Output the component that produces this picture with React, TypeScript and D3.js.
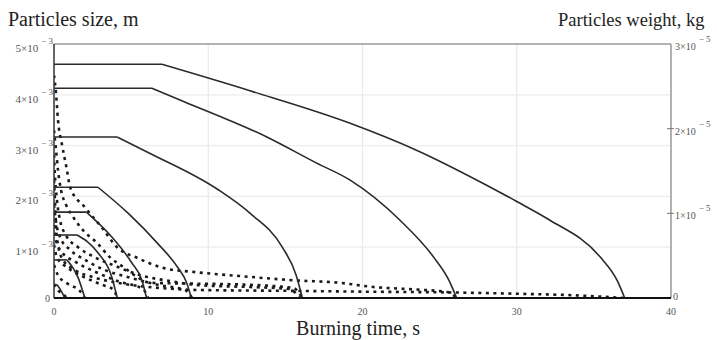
import React from "react";
import * as d3 from "d3";

// particle size curves, [time s, size 1e-3 m]; first two points = plateau
const size1 = [[0, 4.6], [7.0, 4.6], [12.7, 4.08], [19.2, 3.44], [23.5, 2.91], [27.8, 2.26], [30.0, 1.9], [32.1, 1.54], [35.4, 0.81], [36.5, 0.35], [37.0, 0]];
const size2 = [[0, 4.13], [6.35, 4.13], [8.4, 3.87], [13.8, 3.17], [17.0, 2.66], [19.2, 2.32], [22.4, 1.54], [24.6, 0.81], [25.6, 0.35], [26.1, 0]];
const size3 = [[0, 3.17], [4.1, 3.17], [6.2, 2.85], [10.6, 2.14], [12.7, 1.67], [14.8, 1.0], [15.7, 0.45], [16.1, 0]];
const size4 = [[0, 2.18], [2.85, 2.18], [4.8, 1.67], [6.7, 1.08], [8.0, 0.61], [8.6, 0.3], [8.9, 0]];
const size5 = [[0, 1.69], [2.1, 1.69], [3.75, 1.2], [5.05, 0.69], [5.7, 0.35], [6.0, 0]];
const size6 = [[0, 1.24], [1.5, 1.24], [2.85, 0.89], [3.75, 0.41], [4.1, 0]];
const size7 = [[0, 0.75], [0.85, 0.75], [1.55, 0.41], [2.0, 0]];
const size8 = [[0, 0.26], [0.2, 0.26], [0.5, 0.12], [0.7, 0]];

// particle weight curves, [time s, weight 1e-5 kg]
const weight0 = [[0, 1.39], [0.06, 1.16], [0.13, 0.86], [0.26, 0.63], [0.58, 0.45], [1.36, 0.33], [2.66, 0.24], [4.6, 0.165], [6.87, 0.118], [9.5, 0.094], [15, 0.085], [20, 0.075], [26, 0.065], [30, 0.05], [34, 0.03], [37, 0]];
const weight1 = [[0, 2.63], [0.13, 2.42], [0.26, 2.1], [0.52, 1.81], [0.84, 1.51], [1.04, 1.31], [2.01, 1.07], [3.11, 0.83], [4.08, 0.6], [5.44, 0.47], [7.19, 0.35], [8.94, 0.31], [12, 0.26], [15.5, 0.21], [18.5, 0.18], [20.7, 0.13], [22.9, 0.106], [25.5, 0.07], [26.1, 0]];
const weight2 = [[0, 1.98], [0.13, 1.75], [0.26, 1.51], [0.45, 1.28], [0.78, 1.1], [1.23, 0.96], [1.88, 0.8], [2.79, 0.65], [3.63, 0.48], [4.47, 0.37], [5.38, 0.25], [6.22, 0.18], [9, 0.17], [12, 0.16], [15.5, 0.12], [16.1, 0]];
const weight3 = [[0, 1.69], [0.06, 1.45], [0.19, 1.16], [0.39, 0.92], [0.78, 0.74], [1.56, 0.6], [2.66, 0.48], [3.95, 0.38], [5.57, 0.27], [7.52, 0.2], [9.46, 0.15], [12.7, 0.13], [15.3, 0.106], [15.9, 0]];
const weight4 = [[0, 1.1], [0.13, 0.9], [0.39, 0.72], [1.04, 0.57], [2.01, 0.45], [3.3, 0.33], [4.93, 0.24], [6.87, 0.15], [8.5, 0.094], [8.95, 0]];
const weight5 = [[0, 0.86], [0.13, 0.68], [0.52, 0.54], [1.36, 0.43], [2.66, 0.31], [4.28, 0.19], [5.77, 0.106], [6.1, 0]];
const weight6 = [[0, 0.63], [0.19, 0.48], [0.78, 0.37], [1.81, 0.26], [2.98, 0.165], [3.89, 0.094], [4.08, 0]];
const weight7 = [[0, 0.39], [0.26, 0.27], [0.91, 0.165], [1.68, 0.083], [2.0, 0]];
const weight8 = [[0, 0.165], [0.26, 0.094], [0.65, 0.035], [0.84, 0]];

const sizeSeries = [size1, size2, size3, size4, size5, size6, size7, size8];
const weightSeries = [weight0, weight1, weight2, weight3, weight4, weight5, weight6, weight7, weight8];

const xTicks = [0, 10, 20, 30, 40];
const leftTicks = [1, 2, 3, 4, 5]; // x 1e-3
const rightTicks = [1, 2, 3]; // x 1e-5

const W = 717, H = 340;
const serif = "'Liberation Serif', 'DejaVu Serif', serif";

export default function App() {
  const x = d3.scaleLinear().domain([0, 40]).range([54, 671]);
  const yL = d3.scaleLinear().domain([0, 5]).range([298, 44]);
  const yR = d3.scaleLinear().domain([0, 3]).range([298, 44]);

  const flatL = d3.line<number[]>().x((d) => x(d[0])).y((d) => yL(d[1]));
  const lineL = d3.line<number[]>().x((d) => x(d[0])).y((d) => yL(d[1])).curve(d3.curveMonotoneX);
  const lineR = d3.line<number[]>().x((d) => x(d[0])).y((d) => yR(d[1])).curve(d3.curveMonotoneX);

  const [x0, x1] = x.range();
  const yTop = yL(5), yBot = yL(0);

  return (
    <svg width={W} height={H} style={{ position: "absolute", left: 0, top: 0, background: "#fff" }}>
      <defs>
        <clipPath id="plot">
          <rect x={x0} y={yTop} width={x1 - x0} height={yBot - yTop} />
        </clipPath>
      </defs>

      {/* grid */}
      {xTicks.slice(1, -1).map((t) => (
        <line key={"gx" + t} x1={x(t)} x2={x(t)} y1={yTop} y2={yBot} stroke="#e8e8e8" strokeWidth={1.2} />
      ))}
      {leftTicks.slice(0, -1).map((t) => (
        <line key={"gy" + t} x1={x0} x2={x1} y1={yL(t)} y2={yL(t)} stroke="#ececec" strokeWidth={1.2} />
      ))}

      {/* frame */}
      <line x1={x0} x2={x1} y1={yTop} y2={yTop} stroke="#999" strokeWidth={1.5} />
      <line x1={x1} x2={x1} y1={yTop} y2={yBot} stroke="#999" strokeWidth={1.5} />

      <g clipPath="url(#plot)">
        {weightSeries.map((s, i) => (
          <path key={"w" + i} d={lineR(s) || ""} fill="none" stroke="#1a1a1a" strokeWidth={2.6} strokeDasharray="3 4.5" />
        ))}
        {sizeSeries.map((s, i) => (
          <g key={"s" + i}>
            <path d={flatL(s.slice(0, 2)) || ""} fill="none" stroke="#2a2a2a" strokeWidth={1.6} />
            <path d={lineL(s.slice(1)) || ""} fill="none" stroke="#2a2a2a" strokeWidth={1.6} />
          </g>
        ))}
      </g>

      <line x1={x0} x2={x0} y1={yTop} y2={yBot} stroke="#333" strokeWidth={1.5} />
      <line x1={x0} x2={x1} y1={yBot} y2={yBot} stroke="#111" strokeWidth={2.2} />

      {/* left ticks */}
      {leftTicks.map((t) => (
        <text key={"l" + t} x={53} y={yL(t) + 8} textAnchor="end" fontFamily={serif} fontSize={11} fill="#555">
          {t}×10
          <tspan dx={3} dy={-8} fontSize={9}>{"− 3"}</tspan>
        </text>
      ))}
      <text x={50} y={yBot + 4} textAnchor="end" fontFamily={serif} fontSize={10} fill="#555">0</text>

      {/* right ticks */}
      {rightTicks.map((t) => (
        <g key={"r" + t}>
          {t < 3 && <line x1={x1 - 4} x2={x1 + 3} y1={yR(t)} y2={yR(t)} stroke="#777" strokeWidth={1} />}
          <text x={x1 + 4} y={yR(t) + 6} fontFamily={serif} fontSize={10} fill="#555">
            {t}×10
            <tspan dx={3} dy={-8} fontSize={9}>{"− 5"}</tspan>
          </text>
        </g>
      ))}
      <text x={x1 + 2} y={yBot + 2} fontFamily={serif} fontSize={10} fill="#555">0</text>

      {/* x ticks */}
      {xTicks.map((t) => (
        <text key={"x" + t} x={x(t)} y={yBot + 17} textAnchor="middle" fontFamily={serif} fontSize={10} fill="#555">{t}</text>
      ))}

      {/* titles */}
      <text x={8} y={26} fontFamily={serif} fontSize={20} fill="#222">Particles size, m</text>
      <text x={558} y={26} fontFamily={serif} fontSize={18.5} fill="#222">Particles weight, kg</text>
      <text x={358} y={335} textAnchor="middle" fontFamily={serif} fontSize={20} fill="#222">Burning time, s</text>
    </svg>
  );
}
